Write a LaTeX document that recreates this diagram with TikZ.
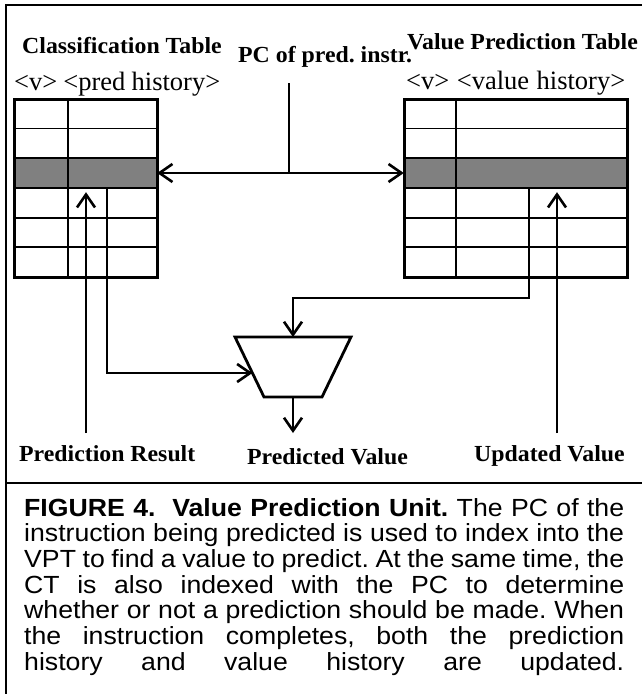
\documentclass[tikz,border=0pt]{standalone}
\usepackage{graphicx}
\usepackage{fontspec}
\setmainfont{Liberation Serif}
\newfontfamily\capfont{Liberation Sans}
\usetikzlibrary{arrows.meta}

% slightly widened type for the labels and the caption lines
\newcommand\labelwide[1]{\scalebox{1.035}[1]{#1}}
\newcommand\capwide[1]{\scalebox{1.075}[1]{\makebox[558.1pt][s]{#1}}}

\begin{document}
\frenchspacing
\begin{tikzpicture}[x=1pt,y=-1pt,
  frameline/.style={line width=2pt},
  tablebox/.style={draw, line width=3pt, inner sep=0pt, fill=none},
  hlrow/.style={fill=black!50, draw=none, inner sep=0pt},
  gridline/.style={line width=1.6pt},
  conn/.style={line width=2.8pt},
  arr/.style={conn, -{Straight Barb[length=13pt,width=18pt,line width=2.6pt]}},
  darr/.style={conn, {Straight Barb[length=13pt,width=18pt,line width=2.6pt]}-{Straight Barb[length=13pt,width=18pt,line width=2.6pt]}},
  title/.style={anchor=base west, inner sep=0pt, font=\bfseries\fontsize{23}{23}\selectfont},
  field/.style={anchor=base west, inner sep=0pt, font=\fontsize{26.5}{26.5}\selectfont},
  capline/.style={anchor=base west, inner sep=0pt, font=\capfont\fontsize{24.8}{25.7}\selectfont}
]
\useasboundingbox (0,0) rectangle (642,694);

% outer frame and caption separator
\draw[frameline] (642,5) -- (6,5) -- (6,694);
\draw[frameline] (6,483) -- (642,483);

% ---------------- Classification Table ----------------
\node[hlrow, minimum width=143pt, minimum height=30pt] (cthl) at (85.5,173) {};
\foreach \r in {128.5,158,188,218,247}
  \draw[gridline] (14,\r) -- (157,\r);
\draw[gridline] (68,99) -- (68,277);
\node[tablebox, minimum width=143pt, minimum height=178pt] (ct) at (85.5,188) {};

% ---------------- Value Prediction Table ----------------
\node[hlrow, minimum width=223pt, minimum height=30pt] (vphl) at (515.5,173) {};
\foreach \r in {128.5,158,188,218,247}
  \draw[gridline] (404,\r) -- (627,\r);
\draw[gridline] (456,99) -- (456,277);
\node[tablebox, minimum width=223pt, minimum height=178pt] (vpt) at (515.5,188) {};

% ---------------- titles and field labels ----------------
\node[title] (cttitle) at (22,53) {\labelwide{Classification Table}};
\node[title] (vptitle) at (407,49) {\labelwide{Value Prediction Table}};
\node[title] (pctitle) at (238,62) {\labelwide{PC of pred. instr.}};
\node[field] (ctfields) at (14,90) {\makebox[206pt][s]{<v> <pred history>}};
\node[field] (vpfields) at (406,89) {\makebox[219pt][s]{<v> <value history>}};

% ---------------- selector (mux) ----------------
\coordinate (mtl) at (235,337);
\coordinate (mtr) at (351,337);
\coordinate (mbr) at (322,397);
\coordinate (mbl) at (264,397);
\draw[conn, line join=miter] (mtl) -- (mtr) -- (mbr) -- (mbl) -- cycle;
\coordinate (muxtop) at (293,337);
\coordinate (muxbot) at (293,397);
\coordinate (muxin) at (252.4,373);

% ---------------- bottom labels ----------------
\node[title] (prlabel) at (19,461) {\labelwide{Prediction Result}};
\node[title] (pvlabel) at (247,464) {\labelwide{Predicted Value}};
\node[title] (uvlabel) at (474,461) {\labelwide{Updated Value}};

% ---------------- connectors ----------------
\coordinate (pcsrc) at (289,83);
\coordinate (pcjoin) at (289,173);
\draw[conn] (pcsrc) -- (pcjoin);
\draw[darr] (cthl.east) -- (vphl.west);

\coordinate (prsrc) at (86,433);
\draw[arr] (prsrc) -- ([yshift=-4pt]prsrc |- cthl.south);

\coordinate (ctout) at (107,188);
\draw[arr] (ctout) |- (muxin);

\coordinate (vpout) at (529,188);
\coordinate (vpbend) at (529,298);
\draw[arr, line join=miter] (vpout) -- (vpbend) -| (muxtop);

\coordinate (uvsrc) at (557,433);
\draw[arr] (uvsrc) -- ([yshift=-4pt]uvsrc |- vphl.south);

\coordinate (pvend) at (293,433);
\draw[arr] (muxbot) -- (pvend);

% ---------------- caption ----------------
\node[capline] (cap1) at (24,516)   {\capwide{\textbf{FIGURE 4.\ \ Value Prediction Unit.} The PC of the}};
\node[capline] (cap2) at (24,541.7) {\capwide{instruction being predicted is used to index into the}};
\node[capline] (cap3) at (24,567.4) {\capwide{VPT to find a value to predict. At the same time, the}};
\node[capline] (cap4) at (24,593.1) {\capwide{CT is also indexed with the PC to determine}};
\node[capline] (cap5) at (24,618.8) {\capwide{whether or not a prediction should be made. When}};
\node[capline] (cap6) at (24,644.5) {\capwide{the instruction completes, both the prediction}};
\node[capline] (cap7) at (24,670.2) {\capwide{history and value history are updated.}};
\end{tikzpicture}
\end{document}
